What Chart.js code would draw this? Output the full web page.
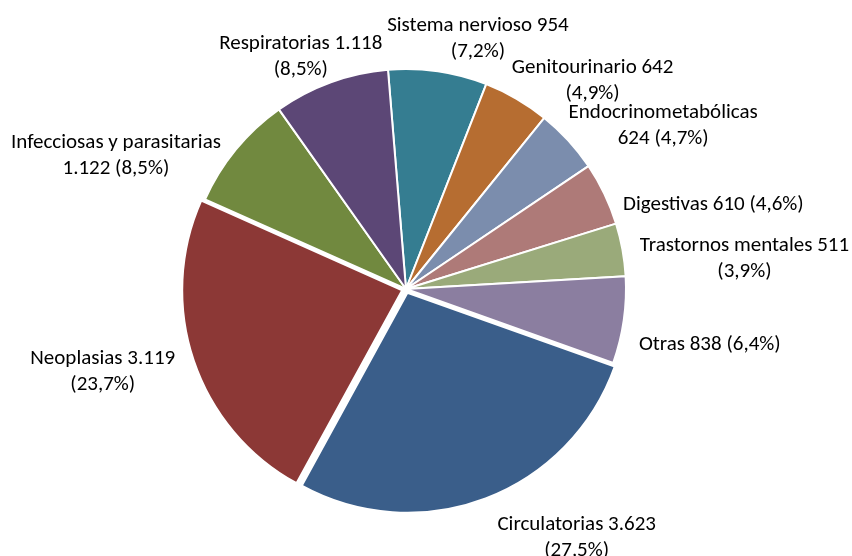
<!DOCTYPE html>
<html><head><meta charset="utf-8">
<script src="https://cdn.jsdelivr.net/npm/chart.js@4/dist/chart.umd.min.js"></script>
<style>html,body{margin:0;padding:0;background:#fff}#wrap{width:852px;height:556px;position:relative}</style>
</head><body><div id="wrap"><canvas id="c" width="852" height="556"></canvas></div>
<script>
// ---- data ----
const categories = ['Sistema nervioso','Genitourinario','Endocrinometabólicas','Digestivas','Trastornos mentales','Otras','Circulatorias','Neoplasias','Infecciosas y parasitarias','Respiratorias'];
const values = [954, 642, 624, 610, 511, 838, 3623, 3119, 1122, 1118];

// ---- styles / layout ----
const colors = ['#357D91','#B66D31','#7B8DAD','#AE7A78','#9AAA7A','#8B7EA0','#3A5E8A','#8C3836','#71893F','#5C4776'];
// Chart.js v4 translates an arc by offset/4 px
const explode = [0,0,0,0,0,0,16,16,0,0];
const labelBreaks = ['nv|p','nv|p','n|vp','nvp','nv|p','nvp','nv|p','nv|p','n|vp','nv|p'];
const labelNudge = [[40,-33],[76,-18],[95,-15],[109,11],[122,9],[86,25],[91,39],[-91,11],[-120,6],[-30,-26]];
const LABEL_FONT = '21px Carlito, Calibri, Lato, sans-serif';
const LINE_H = 26;

const total = values.reduce((a,b)=>a+b,0);
function fmtInt(n){ return String(n).replace(/\B(?=(\d{3})+(?!\d))/g,'.'); }
function fmtPct(v){ return '(' + (v/total*100).toFixed(1).replace('.',',') + '%)'; }
function labelLines(i){
  const n = categories[i], v = fmtInt(values[i]), p = fmtPct(values[i]);
  switch(labelBreaks[i]){
    case 'nv|p': return [n+' '+v, p];
    case 'n|vp': return [n, v+' '+p];
    default: return [n+' '+v+' '+p];
  }
}

const labelPlugin = {
  id:'outLabels',
  afterDatasetsDraw(chart){
    const ctx = chart.ctx;
    const meta = chart.getDatasetMeta(0);
    ctx.save();
    ctx.font = LABEL_FONT;
    ctx.fillStyle = '#000';
    ctx.textAlign = 'center';
    ctx.textBaseline = 'middle';
    meta.data.forEach((arc,i)=>{
      const p = arc.getProps(['x','y','startAngle','endAngle','outerRadius'], true);
      const mid = (p.startAngle + p.endAngle)/2;
      const dx = Math.cos(mid), dy = Math.sin(mid);
      const r = p.outerRadius + explode[i]/4;
      const cx = p.x + dx*r + labelNudge[i][0];
      const cy = p.y + dy*r + labelNudge[i][1];
      const lines = labelLines(i);
      const y0 = cy - (lines.length-1)*LINE_H/2;
      lines.forEach((t,k)=>ctx.fillText(t, cx, y0 + k*LINE_H));
    });
    ctx.restore();
  }
};

new Chart(document.getElementById('c'), {
  type:'pie',
  data:{
    labels: categories,
    datasets:[{
      data: values,
      backgroundColor: colors,
      borderColor:'#ffffff',
      borderWidth:2,
      offset: explode
    }]
  },
  options:{
    responsive:false,
    animation:false,
    devicePixelRatio:1,
    rotation:-4.7,
    radius:220,
    layout:{padding:{left:0,right:40,top:22,bottom:0}},
    plugins:{legend:{display:false},tooltip:{enabled:false}}
  },
  plugins:[labelPlugin]
});
</script>
</body></html>
